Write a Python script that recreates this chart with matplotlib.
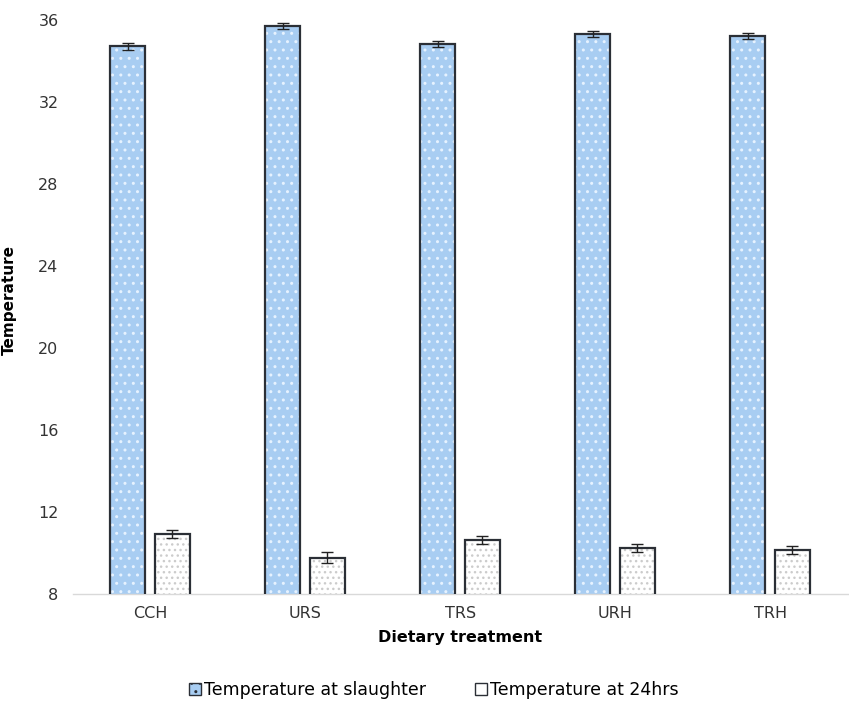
import numpy as np
import matplotlib.pyplot as plt
from matplotlib.patches import Patch

# data
treatments = ["CCH", "URS", "TRS", "URH", "TRH"]
temp_slaughter = [34.7, 35.7, 34.8, 35.3, 35.2]
temp_slaughter_err = [0.15, 0.15, 0.15, 0.15, 0.15]
temp_24hrs = [10.95, 9.8, 10.65, 10.25, 10.15]
temp_24hrs_err = [0.2, 0.25, 0.2, 0.2, 0.2]
y_ticks = [8, 12, 16, 20, 24, 28, 32, 36]

blue = "#a8cdf2"
edge = "#2b2f36"

fig = plt.figure(figsize=(8.49, 7.06), dpi=100)
ax = fig.add_axes([0.0854, 0.158, 0.913, 0.814])

x = np.arange(len(treatments))
width = 0.226
off = 0.144

# blue bars: fill + soft dot hatch, then dark outline on top
ax.bar(x - off, temp_slaughter, width, bottom=0, color=blue, hatch="..",
       edgecolor="#e6f2ff", linewidth=0, zorder=2)
ax.bar(x - off, temp_slaughter, width, bottom=0, fill=False,
       edgecolor=edge, linewidth=1.6, zorder=3)
ax.errorbar(x - off, temp_slaughter, yerr=temp_slaughter_err, fmt="none",
            ecolor="#222222", elinewidth=1, capsize=4, capthick=1, zorder=4)

# white bars with faint grey dots
ax.bar(x + off, temp_24hrs, width, bottom=0, color="white", hatch="...",
       edgecolor="#cccccc", linewidth=0, zorder=2)
ax.bar(x + off, temp_24hrs, width, bottom=0, fill=False,
       edgecolor=edge, linewidth=1.6, zorder=3)
ax.errorbar(x + off, temp_24hrs, yerr=temp_24hrs_err, fmt="none",
            ecolor="#222222", elinewidth=1, capsize=4, capthick=1, zorder=4)

ax.set_ylim(8, 36)
ax.set_xlim(-0.5, 4.5)
ax.set_yticks(y_ticks)
ax.set_xticks(x)
ax.set_xticklabels(treatments)
ax.tick_params(axis="both", length=0, labelsize=11.5, colors="#333333")
ax.tick_params(axis="y", pad=10)
ax.tick_params(axis="x", pad=8)

for s in ["top", "right", "left"]:
    ax.spines[s].set_visible(False)
ax.spines["bottom"].set_color("#d9d9d9")
ax.spines["bottom"].set_linewidth(1)

ax.set_ylabel("Temperature", fontsize=11, fontweight="bold")
ax.yaxis.set_label_coords(-0.072, 0.512)
ax.set_xlabel("Dietary treatment", fontsize=11.5, fontweight="bold", labelpad=7)

handles = [
    Patch(facecolor=blue, edgecolor=edge, hatch="..", label="Temperature at slaughter"),
    Patch(facecolor="white", edgecolor=edge, label="Temperature at 24hrs"),
]
fig.legend(handles=handles, loc="center", bbox_to_anchor=(0.511, 0.023), ncol=2,
           frameon=False, fontsize=12.5, handlelength=0.7, handleheight=0.7,
           handletextpad=0.2, columnspacing=2.8)

fig.savefig("out.png", dpi=100)
